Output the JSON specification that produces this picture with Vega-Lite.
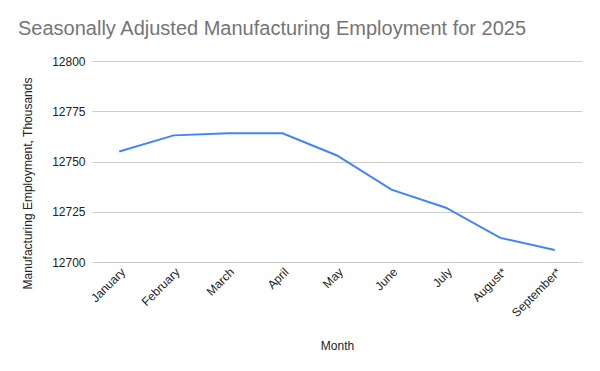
{
  "$schema": "https://vega.github.io/schema/vega-lite/v6.json",
  "width": 490,
  "height": 201,
  "autosize": {"type": "none"},
  "padding": {"left": 92, "top": 61, "right": 18, "bottom": 109},
  "background": "white",
  "title": {
    "text": "Seasonally Adjusted Manufacturing Employment for 2025",
    "anchor": "start",
    "frame": "group",
    "font": "Liberation Sans",
    "fontSize": 20,
    "fontWeight": "normal",
    "color": "#757575",
    "baseline": "alphabetic",
    "dx": -74,
    "offset": 0,
    "dy": 0
  },
  "config": {
    "view": {"stroke": null},
    "font": "Liberation Sans"
  },
  "data": {
    "values": [
      {"Month": "January", "Employment": 12755},
      {"Month": "February", "Employment": 12763},
      {"Month": "March", "Employment": 12764},
      {"Month": "April", "Employment": 12764},
      {"Month": "May", "Employment": 12753},
      {"Month": "June", "Employment": 12736},
      {"Month": "July", "Employment": 12727},
      {"Month": "August*", "Employment": 12712},
      {"Month": "September*", "Employment": 12706}
    ]
  },
  "mark": {"type": "line", "color": "#4285F4", "strokeWidth": 2},
  "encoding": {
    "x": {
      "field": "Month",
      "type": "ordinal",
      "sort": null,
      "scale": {"type": "point", "padding": 0.5},
      "axis": {
        "title": "Month",
        "titleFont": "Liberation Sans",
        "titleFontSize": 12,
        "titleFontWeight": "normal",
        "titleColor": "#222222",
        "titleY": 83,
        "titleBaseline": "middle",
        "labelAngle": -45,
        "labelFont": "Liberation Sans",
        "labelFontSize": 12,
        "labelColor": "#222222",
        "labelPadding": 4,
        "ticks": false,
        "domain": false,
        "grid": false
      }
    },
    "y": {
      "field": "Employment",
      "type": "quantitative",
      "scale": {"domain": [12700, 12800], "zero": false, "nice": false},
      "axis": {
        "title": "Manufacturing Employment, Thousands",
        "titleFont": "Liberation Sans",
        "titleFontSize": 12,
        "titleFontWeight": "normal",
        "titleColor": "#222222",
        "titleX": -65,
        "titleY": 122,
        "titleAngle": -90,
        "titleAlign": "center",
        "titleBaseline": "middle",
        "values": [12700, 12725, 12750, 12775, 12800],
        "format": "d",
        "labelFont": "Liberation Sans",
        "labelFontSize": 12,
        "labelColor": "#222222",
        "labelPadding": 7,
        "ticks": false,
        "domain": false,
        "grid": true,
        "gridColor": "#CCCCCC",
        "gridWidth": 1
      }
    }
  }
}
